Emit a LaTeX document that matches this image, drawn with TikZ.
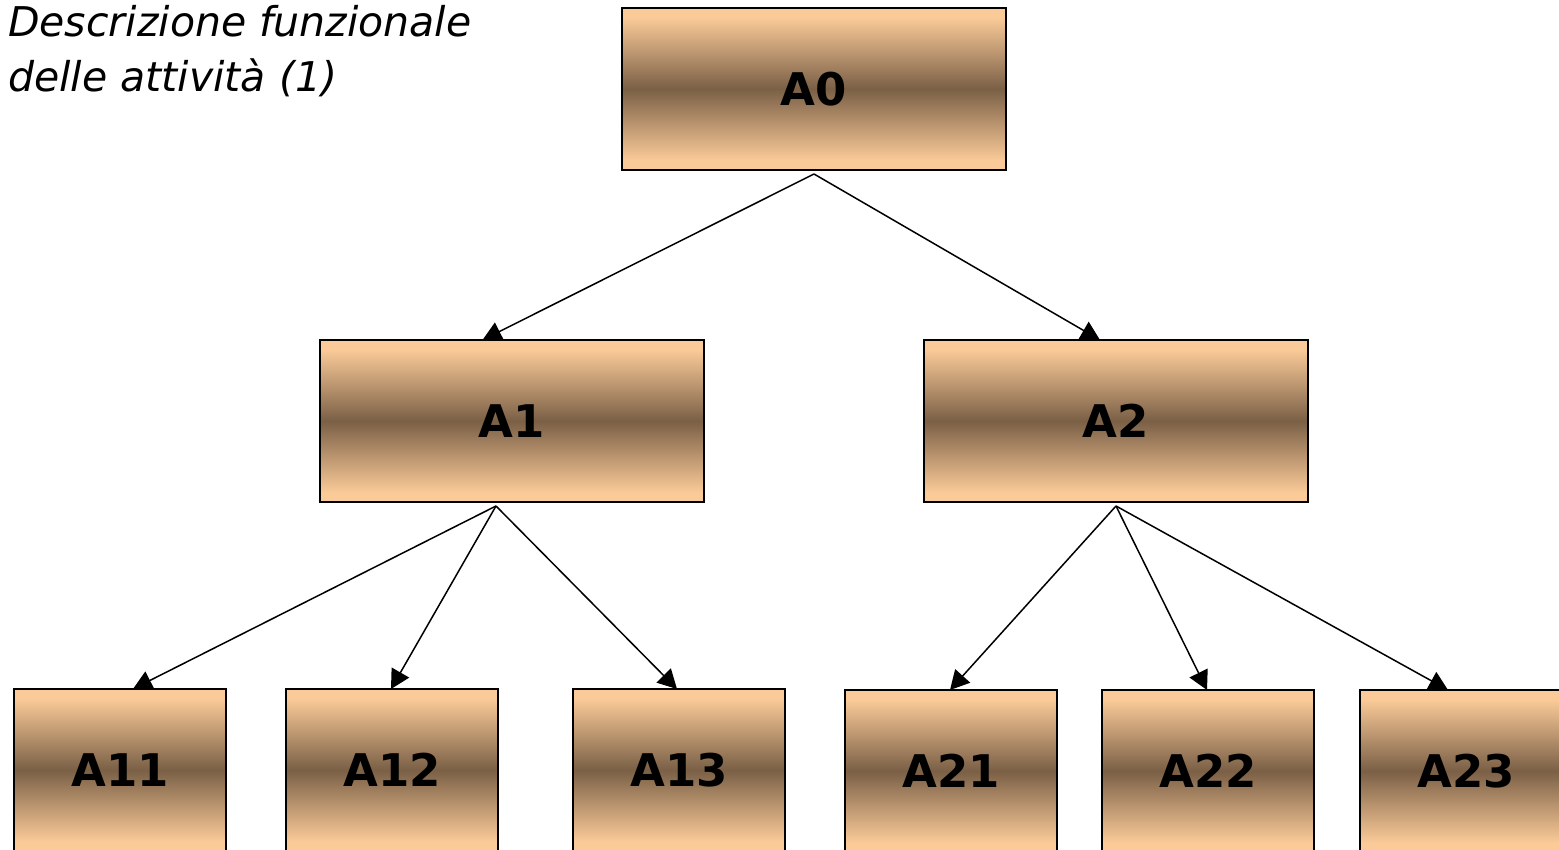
\documentclass[tikz,border=0pt]{standalone}
\usepackage{fontspec}
\setmainfont{DejaVu Sans}
\usetikzlibrary{arrows.meta,calc,backgrounds}
\definecolor{peach}{RGB}{250,202,152}
\definecolor{umber}{RGB}{122,96,70}
\pgfdeclareverticalshading{peachband}{100bp}{color(0bp)=(peach); color(25bp)=(peach); color(28bp)=(peach); color(38bp)=(peach!55!umber); color(50bp)=(umber); color(62bp)=(peach!55!umber); color(72bp)=(peach); color(75bp)=(peach); color(100bp)=(peach)}
\begin{document}
\begin{tikzpicture}[x=1pt,y=-1pt,
  box/.style={draw=black,line width=2pt,inner sep=0pt,outer sep=0pt,
    shading=peachband,
    font=\fontsize{45}{54}\selectfont\bfseries},
  bigbox/.style={box,minimum width=384pt,minimum height=162pt},
  smallbox/.style={box,minimum width=212pt,minimum height=162pt},
  arr/.style={line width=1.5pt,-{Triangle[length=19pt,width=20pt]}},
  title/.style={font=\fontsize{41}{50}\selectfont\itshape,anchor=base west,inner sep=0pt}]
\useasboundingbox (0,0) rectangle (1559,850);
\clip (0,0) rectangle (1559,850);
\node[title] (t1) at (8,37) {Descrizione funzionale};
\node[title] (t2) at (8,92) {delle attività (1)};
\node[bigbox] (A0) at (814,89) {A0};
\node[bigbox] (A1) at (511.5,421) {A1};
\node[bigbox] (A2) at (1116,421) {A2};
\node[smallbox] (A11) at (120,770) {A11};
\node[smallbox] (A12) at (392,770) {A12};
\node[smallbox] (A13) at (679,770) {A13};
\node[smallbox] (A21) at (951,771) {A21};
\node[smallbox] (A22) at (1208,771) {A22};
\node[smallbox] (A23) at (1466,771) {A23};
\begin{scope}[on background layer]
\draw[arr] ($(A0.south)+(0,4)$) -- ($(A1.north west)+(163,0)$);
\draw[arr] ($(A0.south)+(0,4)$) -- ($(A2.north west)+(176,0)$);
\draw[arr] ($(A1.south)+(-15.5,4)$) -- ($(A11.north west)+(119,0)$);
\draw[arr] ($(A1.south)+(-15.5,4)$) -- ($(A12.north west)+(105,0)$);
\draw[arr] ($(A1.south)+(-15.5,4)$) -- ($(A13.north west)+(104,0)$);
\draw[arr] ($(A2.south)+(0,4)$) -- ($(A21.north west)+(105,0)$);
\draw[arr] ($(A2.south)+(0,4)$) -- ($(A22.north west)+(105,0)$);
\draw[arr] ($(A2.south)+(0,4)$) -- ($(A23.north west)+(88,0)$);
\end{scope}
\end{tikzpicture}
\end{document}
